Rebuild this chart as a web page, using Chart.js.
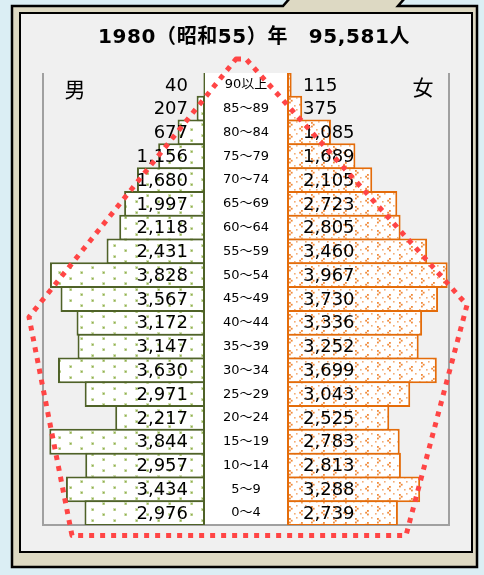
<!DOCTYPE html>
<html><head><meta charset="utf-8">
<script src="https://cdn.jsdelivr.net/npm/chart.js@4.4.1/dist/chart.umd.min.js"></script>
<style>
html,body{margin:0;padding:0;background:#dbeef4;}
canvas{display:block;}
</style></head><body>
<canvas id="c" width="484" height="575"></canvas>
<script>
const ageGroups = ['90以上','85～89','80～84','75～79','70～74','65～69','60～64','55～59','50～54','45～49','40～44','35～39','30～34','25～29','20～24','15～19','10～14','5～9','0～4'];
const male = [40,207,677,1156,1680,1997,2118,2431,3828,3567,3172,3147,3630,2971,2217,3844,2957,3434,2976];
const female = [115,375,1085,1689,2105,2723,2805,3460,3967,3730,3336,3252,3699,3043,2525,2783,2813,3288,2739];
const axisMax = 4000;
const titleText = '1980（昭和55）年　95,581人';
const maleLabel = '男';
const femaleLabel = '女';

function fmt(v){ return String(v).replace(/\B(?=(\d{3})+(?!\d))/g, ','); }

function makeMalePattern(){
  const c = document.createElement('canvas'); c.width = 22; c.height = 11;
  const x = c.getContext('2d');
  x.fillStyle = '#ffffff'; x.fillRect(0,0,22,11);
  const dot = (px,py)=>{ x.fillStyle='rgba(155,187,89,0.45)'; x.fillRect(px-1,py-1,3,3); x.fillStyle='#8fb04c'; x.fillRect(px,py,1.5,1.5); };
  dot(4,3); dot(15,8);
  return x.createPattern(c,'repeat');
}
function makeFemalePattern(){
  const c = document.createElement('canvas'); c.width = 22; c.height = 12;
  const x = c.getContext('2d');
  x.fillStyle = '#ffffff'; x.fillRect(0,0,22,12);
  x.fillStyle = '#f08a3a';
  const chev = (px,py,dir)=>{ x.fillRect(px,py,1.8,1.8); x.fillRect(px+dir*1.8,py+1.8,1.8,1.8); x.fillRect(px,py+3.6,1.8,1.8); };
  chev(3,2,1); chev(15,6,-1);
  x.fillStyle='rgba(240,138,58,0.7)';
  x.fillRect(10,1,1.6,1.6); x.fillRect(19,1,1.6,1.6); x.fillRect(8,9,1.6,1.6); x.fillRect(1,9,1.6,1.6);
  return x.createPattern(c,'repeat');
}

const framePlugin = {
  id:'frame',
  beforeDraw(chart){
    const ctx = chart.ctx, a = chart.chartArea, xc = chart.scales.xc;
    ctx.save();
    ctx.fillStyle = '#dbeef4'; ctx.fillRect(0,0,chart.width,chart.height);
    ctx.beginPath();
    ctx.moveTo(12,6); ctx.lineTo(283,6); ctx.lineTo(290,-2); ctx.lineTo(405,-2); ctx.lineTo(398,6);
    ctx.lineTo(477,6); ctx.lineTo(477,567); ctx.lineTo(12,567); ctx.closePath();
    ctx.fillStyle = '#ddd9c3'; ctx.fill();
    ctx.lineWidth = 2.5; ctx.strokeStyle = '#000'; ctx.stroke();
    ctx.fillStyle = '#f0f0f0'; ctx.fillRect(20,13,452,539);
    ctx.lineWidth = 2; ctx.strokeRect(20,13,452,539);
    ctx.fillStyle = '#ffffff';
    ctx.fillRect(xc.left, a.top, xc.right - xc.left, a.bottom - a.top);
    ctx.strokeStyle = '#a0a0a0'; ctx.lineWidth = 2;
    ctx.beginPath();
    ctx.moveTo(a.left, a.top); ctx.lineTo(a.left, a.bottom); ctx.lineTo(a.right, a.bottom); ctx.lineTo(a.right, a.top);
    ctx.stroke();
    ctx.restore();
  },
  afterDatasetsDraw(chart){
    const ctx = chart.ctx, {y, xm, xf, xc} = chart.scales;
    ctx.save();
    ctx.textBaseline = 'middle';
    ctx.fillStyle = '#000';
    ageGroups.forEach((g,i)=>{
      const py = y.getPixelForValue(i);
      ctx.font = '18px "DejaVu Sans", "Noto Sans CJK JP", sans-serif';
      ctx.textAlign = 'right';
      ctx.fillText(fmt(male[i]), xm.getPixelForValue(0) - 17, py + 1);
      ctx.textAlign = 'left';
      ctx.fillText(fmt(female[i]), xf.getPixelForValue(0) + 16, py + 1);
      ctx.font = '13px "DejaVu Sans", "Noto Sans CJK JP", sans-serif';
      ctx.textAlign = 'center';
      ctx.fillText(g, (xc.left + xc.right)/2, py);
    });
    ctx.restore();
  },
  afterDraw(chart){
    const ctx = chart.ctx;
    ctx.save();
    ctx.fillStyle = '#000';
    ctx.textBaseline = 'middle';
    ctx.textAlign = 'center';
    ctx.font = 'bold 20px "DejaVu Sans", "Noto Sans CJK JP", sans-serif';
    if ('letterSpacing' in ctx) ctx.letterSpacing = '0.6px';
    ctx.fillText(titleText, 254, 38);
    if ('letterSpacing' in ctx) ctx.letterSpacing = '0px';
    ctx.font = '21px "Noto Sans CJK JP", sans-serif';
    ctx.fillText(maleLabel, 75, 89);
    ctx.fillText(femaleLabel, 423, 87);
    // red dotted pentagon annotation
    ctx.strokeStyle = '#ff4545';
    ctx.lineWidth = 5;
    ctx.setLineDash([5,6]);
    ctx.lineJoin = 'round';
    ctx.beginPath();
    ctx.moveTo(236,59); ctx.lineTo(246,59); ctx.lineTo(467,305); ctx.lineTo(406,535.5);
    ctx.lineTo(72,535.5); ctx.lineTo(29,317); ctx.closePath();
    ctx.stroke();
    ctx.restore();
  }
};

new Chart(document.getElementById('c'), {
  type: 'bar',
  data: {
    labels: ageGroups,
    datasets: [
      { label: maleLabel, data: male, xAxisID: 'xm', yAxisID: 'y', grouped: false,
        backgroundColor: makeMalePattern(), borderColor: '#4f6228', borderWidth: 2, borderSkipped: false,
        categoryPercentage: 1, barPercentage: 1.084 },
      { label: femaleLabel, data: female, xAxisID: 'xf', yAxisID: 'y', grouped: false,
        backgroundColor: makeFemalePattern(), borderColor: '#e46c0a', borderWidth: 2, borderSkipped: false,
        categoryPercentage: 1, barPercentage: 1.084 }
    ]
  },
  options: {
    indexAxis: 'y', responsive: false, animation: false, devicePixelRatio: 1,
    layout: { padding: { left: 43, right: 35, top: 73, bottom: 50 } },
    plugins: { legend: { display: false }, tooltip: { enabled: false }, title: { display: false } },
    scales: {
      y: { type: 'category', display: false, offset: true },
      xm: { type: 'linear', position: 'bottom', stack: 'x', stackWeight: 162, weight: 0, min: 0, max: axisMax, reverse: true, display: false },
      xc: { type: 'linear', position: 'bottom', stack: 'x', stackWeight: 82, weight: 1, min: 0, max: 1, display: false },
      xf: { type: 'linear', position: 'bottom', stack: 'x', stackWeight: 162, weight: 2, min: 0, max: axisMax, display: false }
    }
  },
  plugins: [framePlugin]
});
</script>
</body></html>
